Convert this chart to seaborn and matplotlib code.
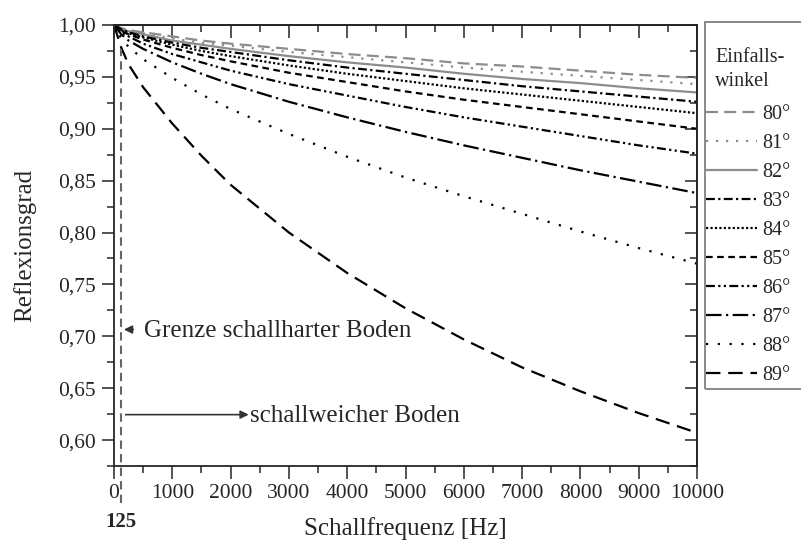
import numpy as np
import pandas as pd
import matplotlib
matplotlib.use("Agg")
import matplotlib.pyplot as plt
import seaborn as sns
from matplotlib.ticker import MultipleLocator, FuncFormatter
from matplotlib.patches import Rectangle

# ---------------- data ----------------
freq_hz = [0, 125, 250, 500, 1000, 1500, 2000, 3000, 4000, 5000, 6000, 7000, 8000, 9000, 10000]
r_80 = [1.0, 0.997, 0.995, 0.993, 0.989, 0.985, 0.982, 0.977, 0.972, 0.968, 0.963, 0.960, 0.956, 0.952, 0.949]
r_81 = [1.0, 0.997, 0.995, 0.992, 0.987, 0.983, 0.980, 0.974, 0.969, 0.964, 0.959, 0.955, 0.951, 0.947, 0.943]
r_82 = [1.0, 0.996, 0.994, 0.991, 0.985, 0.981, 0.977, 0.970, 0.964, 0.959, 0.953, 0.948, 0.944, 0.939, 0.935]
r_83 = [1.0, 0.996, 0.993, 0.989, 0.983, 0.978, 0.974, 0.966, 0.959, 0.953, 0.947, 0.941, 0.936, 0.931, 0.926]
r_84 = [1.0, 0.995, 0.992, 0.988, 0.981, 0.975, 0.970, 0.961, 0.953, 0.946, 0.939, 0.933, 0.927, 0.921, 0.915]
r_85 = [1.0, 0.994, 0.991, 0.986, 0.978, 0.971, 0.965, 0.954, 0.945, 0.936, 0.928, 0.921, 0.914, 0.907, 0.900]
r_86 = [1.0, 0.993, 0.989, 0.982, 0.972, 0.964, 0.956, 0.943, 0.932, 0.921, 0.911, 0.902, 0.893, 0.884, 0.876]
r_87 = [1.0, 0.991, 0.985, 0.977, 0.964, 0.953, 0.943, 0.926, 0.911, 0.897, 0.884, 0.872, 0.860, 0.849, 0.838]
r_88 = [1.0, 0.987, 0.979, 0.967, 0.949, 0.933, 0.919, 0.895, 0.873, 0.853, 0.835, 0.818, 0.801, 0.785, 0.770]
r_89 = [1.0, 0.978, 0.962, 0.940, 0.905, 0.874, 0.846, 0.800, 0.761, 0.727, 0.697, 0.670, 0.647, 0.626, 0.607]
angles = ["80°", "81°", "82°", "83°", "84°", "85°", "86°", "87°", "88°", "89°"]
series = [r_80, r_81, r_82, r_83, r_84, r_85, r_86, r_87, r_88, r_89]
boundary_hz = 125
x_ticks = [0, 1000, 2000, 3000, 4000, 5000, 6000, 7000, 8000, 9000, 10000]
y_ticks = [0.60, 0.65, 0.70, 0.75, 0.80, 0.85, 0.90, 0.95, 1.00]

# ---------------- style ----------------
sns.set_style("ticks")
plt.rcParams["font.family"] = ["Liberation Serif", "DejaVu Serif"]

GRAY = "#8c8c8c"
BLACK = "#000000"
colors = {a: (GRAY if a in ("80°", "81°", "82°") else BLACK) for a in angles}
dashes = {
    "80°": (5.4, 2.8),
    "81°": (1, 3.5),
    "82°": "",
    "83°": (4, 1.5, 1, 1.5),
    "84°": (1, 1),
    "85°": (3, 2),
    "86°": (4, 1.5, 1, 1.5, 1, 1.5),
    "87°": (7, 2, 1, 2),
    "88°": (1, 4.3),
    "89°": (6.5, 3.5),
}

rows = []
for a, vals in zip(angles, series):
    for f, r in zip(freq_hz, vals):
        rows.append({"f": f, "R": r, "angle": a})
df = pd.DataFrame(rows)

W, H = 801, 543
fig = plt.figure(figsize=(W / 100, H / 100), dpi=100)
ax = fig.add_axes([114 / W, 1 - 466 / H, (697 - 114) / W, (466 - 25) / H])

sns.lineplot(data=df, x="f", y="R", hue="angle", style="angle",
             hue_order=angles, style_order=angles,
             palette=colors, dashes=dashes, linewidth=1.6, ax=ax, legend=True)
handles, labels = ax.get_legend_handles_labels()
ax.get_legend().remove()

ax.set_xlim(0, 10000)
ax.set_ylim(0.575, 1.0)
ax.set_xticks(x_ticks)
ax.set_yticks(y_ticks)
ax.xaxis.set_minor_locator(MultipleLocator(500))
ax.yaxis.set_minor_locator(MultipleLocator(0.025))
ax.yaxis.set_major_formatter(FuncFormatter(lambda v, p: f"{v:.2f}".replace(".", ",")))
ax.tick_params(which="major", direction="out", length=9, width=1.1, labelsize=15.5,
               top=False, right=False, pad=4)
ax.tick_params(which="minor", direction="out", length=5, width=1.1, top=False, right=False)
for s in ax.spines.values():
    s.set_linewidth(1.3)

secx = ax.secondary_xaxis("top")
secx.set_xticks(x_ticks)
secx.xaxis.set_minor_locator(MultipleLocator(500))
secx.tick_params(which="major", direction="in", length=9, width=1.1, labeltop=False)
secx.tick_params(which="minor", direction="in", length=5, width=1.1)
secx.spines["top"].set_linewidth(1.3)
secy = ax.secondary_yaxis("right")
secy.set_yticks(y_ticks)
secy.yaxis.set_minor_locator(MultipleLocator(0.025))
secy.tick_params(which="major", direction="in", length=9, width=1.1, labelright=False)
secy.tick_params(which="minor", direction="in", length=5, width=1.1)
secy.spines["right"].set_linewidth(1.3)

ax.set_xlabel("Schallfrequenz [Hz]", fontsize=18, labelpad=10)
ax.set_ylabel("Reflexionsgrad", fontsize=18, labelpad=16)

# boundary line at 125 Hz
ax.axvline(boundary_hz, ymin=-0.084, ymax=0.945, color="#666666", lw=1.5,
           ls=(0, (4, 2.5)), clip_on=False)
ax.text(boundary_hz, -0.105, str(boundary_hz), transform=ax.get_xaxis_transform(),
        ha="center", va="top", fontsize=15, fontweight="bold")

# annotations
ax.annotate("", xy=(170, 0.7065), xytext=(330, 0.7065),
            arrowprops=dict(arrowstyle="-|>", color="#333333", lw=1.2, mutation_scale=12,
                            shrinkA=0, shrinkB=0))
ax.text(520, 0.7055, "Grenze schallharter Boden", fontsize=18, ha="left", va="center")
ax.annotate("", xy=(2310, 0.6245), xytext=(200, 0.6245),
            arrowprops=dict(arrowstyle="-|>", color="#333333", lw=1.2, mutation_scale=12,
                            shrinkA=0, shrinkB=0))
ax.text(2330, 0.6235, "schallweicher Boden", fontsize=18, ha="left", va="center")

# legend box, title and entries
fig.patches.append(Rectangle((705 / W, 1 - 389 / H), (110) / W, (389 - 22) / H,
                             transform=fig.transFigure, fill=False,
                             edgecolor="#808080", lw=1.3))
fig.text(715 / W, 1 - 57 / H, "Einfalls-", fontsize=14.5, ha="left", va="center")
fig.text(715 / W, 1 - 81 / H, "winkel", fontsize=14.5, ha="left", va="center")
leg = fig.legend(handles, labels, loc="upper left",
                 bbox_to_anchor=(706 / W, 1 - 105 / H),
                 fontsize=14.5, frameon=False,
                 handlelength=2.55, handletextpad=0.25, labelspacing=0.49,
                 borderpad=0, borderaxespad=0)
for h in leg.legend_handles:
    h.set_linewidth(1.6)

fig.savefig("out.png", dpi=100)
